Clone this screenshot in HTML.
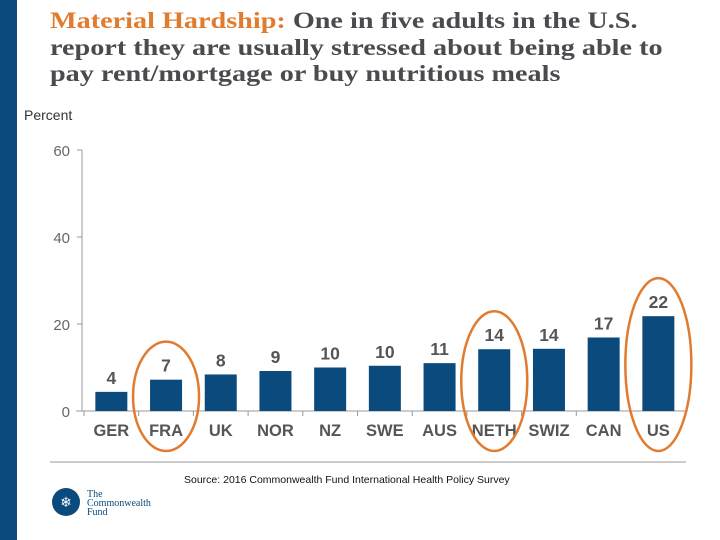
<!DOCTYPE html>
<html><head><meta charset="utf-8"><style>
body{margin:0;width:720px;height:540px;background:#fff;overflow:hidden;position:relative;font-family:"Liberation Sans",sans-serif}
#bar{position:absolute;left:0;top:0;width:17px;height:540px;background:#0b4a7c}
#title{position:absolute;left:50px;top:8px;width:700px;font-family:"Liberation Serif",serif;font-weight:bold;font-size:23.5px;line-height:26.5px;color:#4a4b4f;white-space:nowrap}
#title .l{display:block;transform:scaleX(1.2);transform-origin:left center}
#title .o{color:#e07b2f}
</style></head><body>
<div id="bar"></div>
<div id="title"><span class="l"><span class="o">Material Hardship:</span> One in five adults in the U.S.</span><span class="l">report they are usually stressed about being able to</span><span class="l">pay rent/mortgage or buy nutritious meals</span></div>
<svg id="chart" width="720" height="540" style="position:absolute;left:0;top:0">
<text x="24" y="120" font-size="14" fill="#333">Percent</text>
<g id="axes"></g><g id="bars"></g><g id="rings"></g>
<line x1="50" y1="462" x2="686" y2="462" stroke="#bbb" stroke-width="1.5"/>
<text x="184" y="483" font-size="10.5" fill="#111">Source: 2016 Commonwealth Fund International Health Policy Survey</text>
<g>
<circle cx="66" cy="502" r="14" fill="#0b4a7c"/>
<text x="66" y="507" font-size="14" fill="#fff" text-anchor="middle">❄</text>
<text x="87" y="497" font-family="Liberation Serif,serif" font-size="10" fill="#0b4a7c">The</text>
<text x="87" y="506" font-family="Liberation Serif,serif" font-size="10" fill="#0b4a7c">Commonwealth</text>
<text x="87" y="515" font-family="Liberation Serif,serif" font-size="10" fill="#0b4a7c">Fund</text>
</g>
</svg>
<script>
const categories=["GER","FRA","UK","NOR","NZ","SWE","AUS","NETH","SWIZ","CAN","US"];
const values=[4.4,7.2,8.4,9.2,10,10.4,11,14.2,14.3,16.9,21.8];
const labels=["4","7","8","9","10","10","11","14","14","17","22"];
const yTicks=[0,20,40,60];
const highlighted=["FRA","NETH","US"];
const NS="http://www.w3.org/2000/svg";
const x0=84,band=54.7,yBase=411,yTop=150;
const y=v=>yBase-(v/60)*(yBase-yTop);
const xc=i=>x0+band*(i+0.5);
function mk(tag,attrs,parent,txt){const e=document.createElementNS(NS,tag);for(const k in attrs)e.setAttribute(k,attrs[k]);if(txt!==undefined)e.textContent=txt;document.getElementById(parent).appendChild(e);return e;}
let a=mk("line",{x1:82,y1:yTop,x2:82,y2:yBase,stroke:"#999"},"axes");


a=mk("line",{x1:76,y1:yBase,x2:x0+band*categories.length,y2:yBase,stroke:"#999"},"axes");


yTicks.forEach(t=>{
 mk("line",{x1:77,y1:y(t),x2:82,y2:y(t),stroke:"#999"},"axes");
 const l=mk("text",{x:70,y:y(t)+6,"font-size":15,fill:"#666","text-anchor":"end"},"axes",t);
 
 
});
for(let i=0;i<=categories.length;i++)mk("line",{x1:x0+band*i,y1:yBase,x2:x0+band*i,y2:yBase+5,stroke:"#999"},"axes");
categories.forEach((c,i)=>{
 const b=mk("rect",{x:xc(i)-16,y:y(values[i]),width:32,height:yBase-y(values[i]),fill:"#0b4a7c"},"bars");
 
 
 const v=mk("text",{x:xc(i),y:y(values[i])-8,"font-size":17.5,"font-weight":"bold",fill:"#555","text-anchor":"middle"},"bars",labels[i]);
 
 
 const t=mk("text",{x:xc(i),y:yBase+25,"font-size":16.5,"font-weight":"bold",fill:"#555","text-anchor":"middle"},"bars",c);
 
 
 if(highlighted.includes(c)){
  const top=y(values[i])-38;
  const bot=yBase+40;
  const r=mk("ellipse",{cx:xc(i),cy:(top+bot)/2,rx:33,ry:(bot-top)/2,fill:"none",stroke:"#e07b2f","stroke-width":2.5},"rings");
  
  
 }
});
</script>
</body></html>
